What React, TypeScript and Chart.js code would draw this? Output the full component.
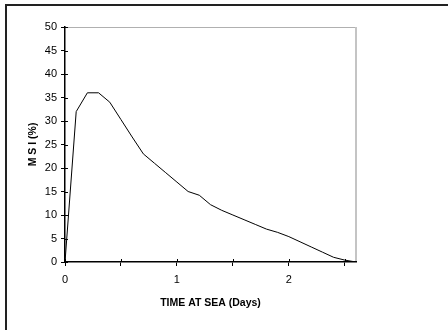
import React, { useEffect, useRef } from "react";
import { Chart, registerables } from "chart.js";

Chart.register(...registerables);

const days = [0, 0.1, 0.2, 0.3, 0.4, 0.5, 0.6, 0.7, 0.8, 0.9, 1.0, 1.1, 1.2, 1.3, 1.4, 1.5, 1.6, 1.7, 1.8, 1.9, 2.0, 2.1, 2.2, 2.3, 2.4, 2.5, 2.6];
const msi = [0, 32, 36, 36, 34, 30.3, 26.6, 23, 21, 19, 17, 15, 14.2, 12.2, 11, 10, 9, 8, 7, 6.3, 5.4, 4.3, 3.2, 2.1, 1.0, 0.4, 0];
const xTickValues = [0, 0.5, 1, 1.5, 2, 2.5];
const xLabelValues = [0, 1, 2];
const yTickValues = [0, 5, 10, 15, 20, 25, 30, 35, 40, 45, 50];
const xTitle = "TIME AT SEA (Days)";
const yTitle = "M S I (%)";

const innerTicks = {
  id: "innerTicks",
  beforeDraw(chart: any) {
    const { ctx, chartArea } = chart;
    ctx.save();
    ctx.strokeStyle = "#b0b0b0";
    ctx.lineWidth = 1;
    ctx.beginPath();
    ctx.moveTo(chartArea.left, chartArea.top + 0.5);
    ctx.lineTo(chartArea.right - 0.5, chartArea.top + 0.5);
    ctx.stroke();
    ctx.strokeStyle = "#c4c4c4";
    ctx.lineWidth = 2;
    ctx.beginPath();
    ctx.moveTo(chartArea.right, chartArea.top);
    ctx.lineTo(chartArea.right, chartArea.bottom);
    ctx.stroke();
    ctx.restore();
  },
  afterDraw(chart: any) {
    const { ctx, chartArea, scales } = chart;
    ctx.save();
    ctx.strokeStyle = "#000";
    ctx.lineWidth = 1;
    ctx.beginPath();
    for (const v of yTickValues) {
      const y = Math.round(scales.y.getPixelForValue(v)) + 0.5;
      ctx.moveTo(chartArea.left, y);
      ctx.lineTo(chartArea.left + 3, y);
    }
    for (const v of xTickValues) {
      const x = Math.round(scales.x.getPixelForValue(v)) + 0.5;
      ctx.moveTo(x, chartArea.bottom);
      ctx.lineTo(x, chartArea.bottom - 3);
    }
    ctx.stroke();
    ctx.restore();
  },
};

export default function App() {
  const ref = useRef<HTMLCanvasElement>(null);
  useEffect(() => {
    if (!ref.current) return;
    const chart = new Chart(ref.current, {
      type: "line",
      data: {
        datasets: [
          {
            data: days.map((d, i) => ({ x: d, y: msi[i] })),
            borderColor: "#000",
            borderWidth: 1,
            pointRadius: 0,
            tension: 0,
            fill: false,
          },
        ],
      },
      options: {
        animation: false,
        responsive: false,
        layout: { padding: { left: 0, top: 27, right: 92, bottom: 0 } },
        plugins: { legend: { display: false }, tooltip: { enabled: false } },
        scales: {
          x: {
            type: "linear",
            min: 0,
            max: 2.6,
            afterFit: (s: any) => { s.height = 68; },
            afterBuildTicks: (s: any) => { s.ticks = xTickValues.map((v) => ({ value: v })); },
            grid: { drawOnChartArea: false, tickLength: 4, color: "#000", lineWidth: 1 },
            border: { color: "#000", width: 1.5 },
            ticks: {
              autoSkip: false,
              maxRotation: 0,
              padding: 7,
              color: "#000",
              font: { family: "Liberation Sans, Arial", size: 11 },
              callback: (v: any) => (xLabelValues.includes(Number(v)) ? String(v) : ""),
            },
            title: {
              display: true,
              text: xTitle,
              color: "#000",
              font: { family: "Liberation Sans, Arial", size: 10.5, weight: "bold" },
              padding: { top: 0, bottom: 21 },
            },
          },
          y: {
            type: "linear",
            min: 0,
            max: 50,
            afterFit: (s: any) => { s.width = 65; },
            afterBuildTicks: (s: any) => { s.ticks = yTickValues.map((v) => ({ value: v })); },
            grid: { drawOnChartArea: false, tickLength: 4, color: "#000", lineWidth: 1 },
            border: { color: "#000", width: 1.5 },
            ticks: {
              autoSkip: false,
              padding: 4,
              color: "#000",
              font: { family: "Liberation Sans, Arial", size: 11 },
            },
            title: {
              display: true,
              text: yTitle,
              color: "#000",
              font: { family: "Liberation Sans, Arial", size: 10.5, weight: "bold" },
              padding: { top: 27, bottom: 0 },
            },
          },
        },
      },
      plugins: [innerTicks],
    });
    return () => chart.destroy();
  }, []);

  return (
    <div style={{ position: "fixed", left: 0, top: 0, width: 448, height: 330, background: "#fff" }}>
      <div
        style={{
          position: "absolute",
          left: 5,
          top: 4,
          right: -10,
          bottom: -10,
          borderLeft: "2px solid #222",
          borderTop: "2px solid #222",
          boxSizing: "border-box",
        }}
      />
      <canvas ref={ref} width={448} height={330} style={{ position: "absolute", left: 0, top: 0 }} />
    </div>
  );
}
